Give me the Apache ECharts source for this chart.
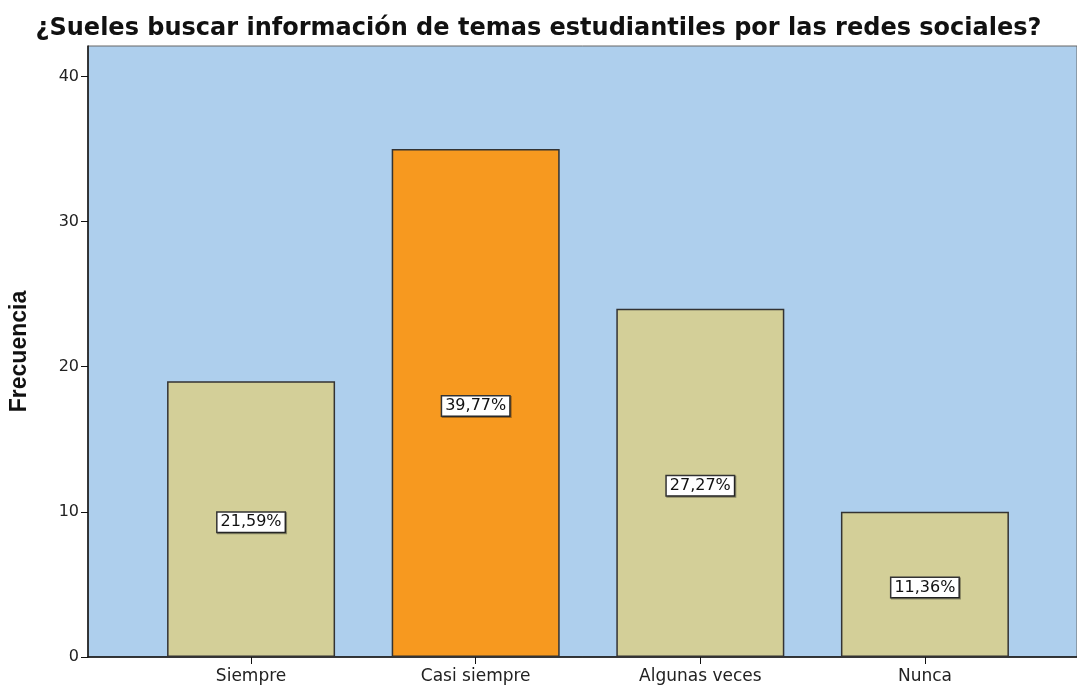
<!DOCTYPE html>
<html>
<head>
<meta charset="utf-8">
<script src="https://cdn.jsdelivr.net/npm/echarts@6/dist/echarts.min.js"></script>
<style>
  html, body { margin: 0; padding: 0; background: #fff; }
  #chart { width: 1077px; height: 686px; }
</style>
</head>
<body>
<div id="chart"></div>
<script>
// datos del gráfico
const categorias = ['Siempre', 'Casi siempre', 'Algunas veces', 'Nunca'];
const frecuencias = [19, 35, 24, 10];
const porcentajes = ['21,59%', '39,77%', '27,27%', '11,36%'];
const ticksY = [0, 10, 20, 30, 40];

const colorBarra = '#D3CF98';
const colorDestacado = '#F7991F'; // barra "Casi siempre"

const chart = echarts.init(document.getElementById('chart'));

const option = {
    animation: false,
    title: {
        text: '¿Sueles buscar información de temas estudiantiles por las redes sociales?',
        left: 'center',
        top: 12,
        textStyle: {
            fontFamily: 'DejaVu Sans',
            fontWeight: 'bold',
            fontSize: 24,
            color: '#111'
        }
    },
    grid: {
        left: 88,
        right: 0,
        top: 46,
        bottom: 29,
        outerBoundsMode: 'none',
        containLabel: false,
        show: true,
        backgroundColor: '#AECFED',
        borderColor: '#666',
        borderWidth: 1
    },
    xAxis: {
        type: 'value',
        min: -0.726,
        max: 3.677,
        splitLine: { show: false },
        axisLine: { show: true, onZero: false, lineStyle: { color: '#111', width: 1.5 } },
        axisTick: {
            show: true, length: 7, lineStyle: { color: '#111' },
            customValues: categorias.map((c, i) => i)
        },
        axisLabel: {
            customValues: categorias.map((c, i) => i),
            fontFamily: 'DejaVu Sans',
            fontSize: 17,
            color: '#222',
            margin: 11,
            formatter: (v) => categorias[Math.round(v)] || ''
        }
    },
    yAxis: {
        type: 'value',
        min: 0,
        max: 42.1,
        name: 'Frecuencia',
        nameLocation: 'middle',
        nameGap: 57,
        nameTextStyle: {
            fontFamily: 'Liberation Sans',
            fontWeight: 'bold',
            fontSize: 23,
            color: '#111'
        },
        splitLine: { show: false },
        axisLine: { show: true, onZero: false, lineStyle: { color: '#111', width: 1.5 } },
        axisTick: {
            show: true, length: 7, lineStyle: { color: '#111' },
            customValues: ticksY
        },
        axisLabel: {
            customValues: ticksY,
            fontFamily: 'DejaVu Sans',
            fontSize: 16,
            color: '#222',
            margin: 9
        }
    },
    series: [{
        type: 'bar',
        barWidth: 168,
        data: frecuencias.map((v, i) => ({
            value: [i, v],
            itemStyle: { color: i === 1 ? colorDestacado : colorBarra }
        })),
        itemStyle: {
            borderColor: '#333',
            borderWidth: 1.5
        },
        label: {
            show: true,
            position: 'inside',
            offset: [0, 3],
            formatter: (p) => porcentajes[p.dataIndex],
            fontFamily: 'DejaVu Sans',
            fontSize: 16,
            color: '#111',
            backgroundColor: '#fff',
            borderColor: '#333',
            borderWidth: 1.5,
            padding: [2, 3, 1, 3],
            shadowColor: 'rgba(0,0,0,0.35)',
            shadowOffsetX: 1,
            shadowOffsetY: 1
        }
    }]
};

chart.setOption(option);
</script>
</body>
</html>
